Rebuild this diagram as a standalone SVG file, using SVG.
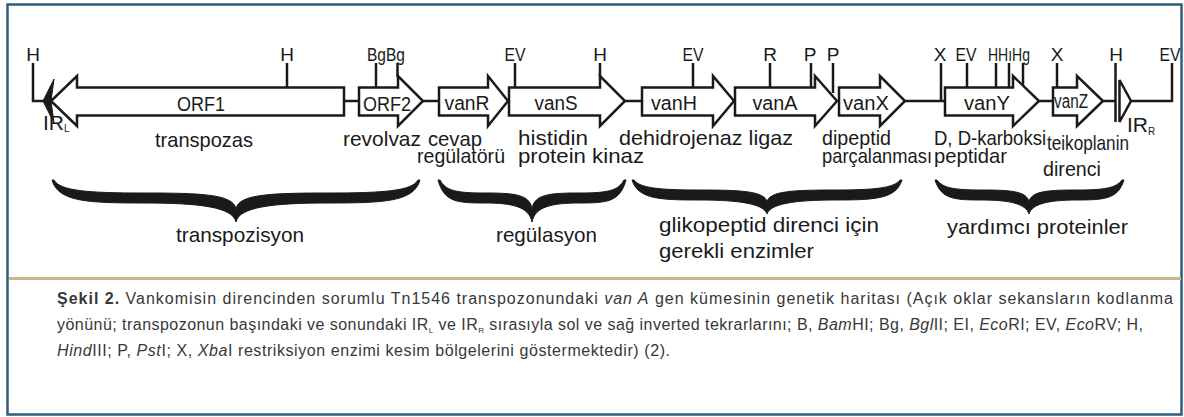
<svg xmlns="http://www.w3.org/2000/svg" width="1184" height="417" viewBox="0 0 1184 417">
<style>
.gene{fill:#fff;stroke:#1a1a1a;stroke-width:2.5;stroke-linejoin:miter}
.ln{fill:none;stroke:#1a1a1a;stroke-width:2.5}
.t{font-family:"Liberation Sans",Arial,sans-serif;font-size:21px;fill:#1a1a1a}
.g{font-family:"Liberation Sans",Arial,sans-serif;font-size:20px;fill:#1a1a1a;text-anchor:middle}
.s{font-family:"Liberation Sans",Arial,sans-serif;font-size:19px;fill:#1a1a1a;text-anchor:middle}
.brace{fill:#1a1a1a;stroke:#1a1a1a;stroke-width:1}
.cap{font-family:"Liberation Sans",Arial,sans-serif;font-size:16px;fill:#383838}
</style>
<rect x="7.5" y="4.5" width="1174" height="410" fill="#fff" stroke="#2f5b7c" stroke-width="2.5"/>
<line x1="9" y1="278.5" x2="1181" y2="278.5" stroke="#ccb58c" stroke-width="3"/>

<g id="connectors">
<path class="ln" d="M33,63 V101 H44"/>
<path class="ln" d="M344,101 H359"/>
<path class="ln" d="M423,101 H439"/>
<path class="ln" d="M625,101 H642"/>
<path class="ln" d="M905,101 H945"/>
<path class="ln" d="M1039,101 H1053"/>
<path class="ln" d="M1103,101 H1116"/>
<path class="ln" d="M1130,101 H1172 V63"/>
</g>

<g id="sites">
<line class="ln" x1="287" y1="63" x2="287" y2="88"/>
<line class="ln" x1="376" y1="63" x2="376" y2="88"/>
<line class="ln" x1="397.5" y1="63" x2="397.5" y2="77"/>
<line class="ln" x1="515" y1="63" x2="515" y2="88"/>
<line class="ln" x1="600" y1="63" x2="600" y2="77"/>
<line class="ln" x1="693" y1="63" x2="693" y2="88"/>
<line class="ln" x1="770" y1="63" x2="770" y2="88"/>
<line class="ln" x1="811" y1="63" x2="811" y2="88"/>
<line class="ln" x1="833" y1="63" x2="833" y2="93"/>
<line class="ln" x1="941" y1="63" x2="941" y2="101"/>
<line class="ln" x1="967" y1="63" x2="967" y2="88"/>
<line class="ln" x1="996" y1="63" x2="996" y2="88"/>
<line class="ln" x1="1009" y1="63" x2="1009" y2="88"/>
<line class="ln" x1="1023" y1="63" x2="1023" y2="86"/>
<line class="ln" x1="1057" y1="63" x2="1057" y2="88"/>
<line class="ln" x1="1115.5" y1="63" x2="1115.5" y2="122"/>
<text class="s" x="33" y="61">H</text>
<text class="s" x="287" y="61">H</text>
<text class="s" x="386" y="61" textLength="38" lengthAdjust="spacingAndGlyphs">BgBg</text>
<text class="s" x="515" y="61" textLength="21" lengthAdjust="spacingAndGlyphs">EV</text>
<text class="s" x="600" y="61">H</text>
<text class="s" x="693" y="61" textLength="21" lengthAdjust="spacingAndGlyphs">EV</text>
<text class="s" x="770" y="61">R</text>
<text class="s" x="810" y="61">P</text>
<text class="s" x="833" y="61">P</text>
<text class="s" x="940" y="61">X</text>
<text class="s" x="966" y="61" textLength="21" lengthAdjust="spacingAndGlyphs">EV</text>
<text class="s" x="1009" y="61" textLength="42" lengthAdjust="spacingAndGlyphs">HHıHg</text>
<text class="s" x="1057" y="61">X</text>
<text class="s" x="1116" y="61">H</text>
<text class="s" x="1170" y="61" textLength="21" lengthAdjust="spacingAndGlyphs">EV</text>
</g>

<g id="ORF1">
<path class="gene" d="M344,87.5 H77 V76 L51,101 L77,126 V115.5 H344 Z"/>
<polygon points="43,101 54,79 51,101 54,123" fill="#1a1a1a" stroke="#1a1a1a" stroke-width="1" stroke-linejoin="round"/>
<text class="g" x="201" y="111" textLength="48" lengthAdjust="spacingAndGlyphs">ORF1</text>
<text class="t" x="43" y="130" font-size="20">IR<tspan font-size="10" dy="2">L</tspan></text>
<text class="t" x="155" y="147" textLength="98" lengthAdjust="spacingAndGlyphs">transpozas</text>
</g>
<g id="ORF2">
<path class="gene" d="M359,87.5 H398 V76 L423,101 L398,126 V115.5 H359 Z"/>
<text class="g" x="387" y="111" textLength="48" lengthAdjust="spacingAndGlyphs">ORF2</text>
<text class="t" x="343" y="146" textLength="78" lengthAdjust="spacingAndGlyphs">revolvaz</text>
</g>
<g id="vanR">
<path class="gene" d="M439,87.5 H488 V76 L508,101 L488,126 V115.5 H439 Z"/>
<text class="g" x="467" y="110" textLength="45" lengthAdjust="spacingAndGlyphs">vanR</text>
<text class="t" x="428" y="146" textLength="54" lengthAdjust="spacingAndGlyphs">cevap</text>
<text class="t" x="417" y="163" textLength="88" lengthAdjust="spacingAndGlyphs">regülatörü</text>
</g>
<g id="vanS">
<path class="gene" d="M509,87.5 H600 V76 L625,101 L600,126 V115.5 H509 Z"/>
<text class="g" x="556" y="110" textLength="43" lengthAdjust="spacingAndGlyphs">vanS</text>
<text class="t" x="518" y="145" textLength="70" lengthAdjust="spacingAndGlyphs">histidin</text>
<text class="t" x="518" y="163" textLength="126" lengthAdjust="spacingAndGlyphs">protein kinaz</text>
</g>
<g id="vanH">
<path class="gene" d="M642,87.5 H713 V76 L734,101 L713,126 V115.5 H642 Z"/>
<text class="g" x="674" y="110" textLength="46" lengthAdjust="spacingAndGlyphs">vanH</text>
<text class="t" x="619" y="145" textLength="174" lengthAdjust="spacingAndGlyphs">dehidrojenaz ligaz</text>
</g>
<g id="vanA">
<path class="gene" d="M735,87.5 H815 V76 L837,101 L815,126 V115.5 H735 Z"/>
<text class="g" x="775" y="110" textLength="45" lengthAdjust="spacingAndGlyphs">vanA</text>
</g>
<g id="vanX">
<path class="gene" d="M839,87.5 H880 V76 L905,101 L880,126 V115.5 H839 Z"/>
<text class="g" x="866" y="110" textLength="46" lengthAdjust="spacingAndGlyphs">vanX</text>
<text class="t" x="822" y="145" textLength="69" lengthAdjust="spacingAndGlyphs">dipeptid</text>
<text class="t" x="822" y="163" textLength="110" lengthAdjust="spacingAndGlyphs">parçalanması</text>
</g>
<g id="vanY">
<path class="gene" d="M945,87.5 H1013 V76 L1039,101 L1013,126 V115.5 H945 Z"/>
<text class="g" x="987" y="110" textLength="46" lengthAdjust="spacingAndGlyphs">vanY</text>
<text class="t" x="934" y="145" textLength="112" lengthAdjust="spacingAndGlyphs">D, D-karboksi</text>
<text class="t" x="934" y="163" textLength="73" lengthAdjust="spacingAndGlyphs">peptidar</text>
</g>
<g id="vanZ">
<path class="gene" d="M1053,87.5 H1077 V76 L1103,101 L1077,126 V115.5 H1053 Z"/>
<text class="g" x="1071" y="108" font-size="17" textLength="34" lengthAdjust="spacingAndGlyphs">vanZ</text>
<text class="t" x="1047" y="150" textLength="82" lengthAdjust="spacingAndGlyphs">teikoplanin</text>
<text class="t" x="1043" y="176" textLength="58" lengthAdjust="spacingAndGlyphs">direnci</text>
</g>
<g id="IRR">
<path class="gene" d="M1119.5,80 L1131,101 L1119.5,122 Z"/>
<text class="t" x="1127" y="132" font-size="20">IR<tspan font-size="10" dy="3">R</tspan></text>
</g>

<g id="brace-transpozisyon">
<path class="brace" d="M52,180 C58,202 88.8,203 144,203 C199.2,203 233,207 236,222 C239,207 272.8,203 328,203 C383.2,203 414,202 420,180 L418,180 C412,191 383.2,193 328,193 C272.8,193 238,194 236,209 C234,194 199.2,193 144,193 C88.8,193 60,191 54,180 Z"/>
<text class="t" x="176" y="242" textLength="128" lengthAdjust="spacingAndGlyphs">transpozisyon</text>
</g>
<g id="brace-regulasyon">
<path class="brace" d="M438,180 C444,202 456.8,203 485,203 C513.2,203 529,207 532,222 C535,207 550.8,203 579,203 C607.2,203 620,202 626,180 L624,180 C618,191 607.2,193 579,193 C550.8,193 534,194 532,209 C530,194 513.2,193 485,193 C456.8,193 446,191 440,180 Z"/>
<text class="t" x="496" y="242" textLength="101" lengthAdjust="spacingAndGlyphs">regülasyon</text>
</g>
<g id="brace-enzimler">
<path class="brace" d="M632,180 C638,199 659,200 699.5,200 C740,200 764,204 767,214 C770,204 794,200 834.5,200 C875,200 896,199 902,180 L900,180 C894,188 875,190 834.5,190 C794,190 769,191 767,202 C765,191 740,190 699.5,190 C659,190 640,188 634,180 Z"/>
<text class="t" x="659" y="232" textLength="220" lengthAdjust="spacingAndGlyphs">glikopeptid direnci için</text>
<text class="t" x="659" y="258" textLength="155" lengthAdjust="spacingAndGlyphs">gerekli enzimler</text>
</g>
<g id="brace-yardimci">
<path class="brace" d="M935,180 C941,199 953.8,200 982,200 C1010.2,200 1026,204 1029,214 C1032,204 1048.3,200 1076.5,200 C1104.7,200 1118,199 1124,180 L1122,180 C1116,188 1104.7,190 1076.5,190 C1048.3,190 1031,191 1029,202 C1027,191 1010.2,190 982,190 C953.8,190 943,188 937,180 Z"/>
<text class="t" x="947" y="234" textLength="181" lengthAdjust="spacingAndGlyphs">yardımcı proteinler</text>
</g>

<g id="caption">
<text class="cap" x="57" y="304" textLength="1116" lengthAdjust="spacing"><tspan font-weight="bold">Şekil 2.</tspan> Vankomisin direncinden sorumlu Tn1546 transpozonundaki <tspan font-style="italic">van A</tspan> gen kümesinin genetik haritası (Açık oklar sekansların kodlanma</text>
<text class="cap" x="57" y="330" textLength="1086" lengthAdjust="spacing">yönünü; transpozonun başındaki ve sonundaki IR<tspan font-size="8" dy="3">L</tspan><tspan dy="-3"> ve IR</tspan><tspan font-size="8" dy="3">R</tspan><tspan dy="-3"> sırasıyla sol ve sağ inverted tekrarlarını; B, </tspan><tspan font-style="italic">Bam</tspan>HI; Bg, <tspan font-style="italic">Bgl</tspan>II; EI, <tspan font-style="italic">Eco</tspan>RI; EV, <tspan font-style="italic">Eco</tspan>RV; H,</text>
<text class="cap" x="57" y="356" textLength="613" lengthAdjust="spacing"><tspan font-style="italic">Hind</tspan>III; P, <tspan font-style="italic">Pst</tspan>I; X, <tspan font-style="italic">Xba</tspan>I restriksiyon enzimi kesim bölgelerini göstermektedir) (2).</text>
</g>
</svg>
